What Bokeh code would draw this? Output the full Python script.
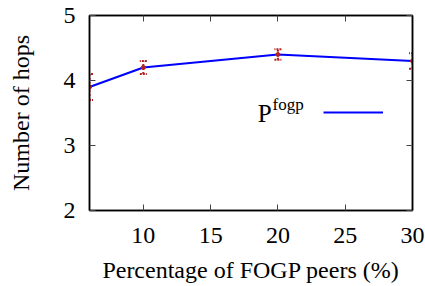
from bokeh.plotting import figure
from bokeh.models import (ColumnDataSource, Whisker, TeeHead, LinearAxis, Legend, LegendItem,
                          Label, FixedTicker, Range1d)
from bokeh.embed import file_html
from bokeh.resources import INLINE

x_vals = [6, 10, 20, 30]
hops = [3.9, 4.2, 4.4, 4.3]
err_low = [3.7, 4.1, 4.32, 4.18]
err_high = [4.1, 4.3, 4.48, 4.42]
x_ticks = [10, 15, 20, 25, 30]
y_ticks = [2, 3, 4, 5]

FONT = "Liberation Serif"

src = ColumnDataSource(dict(x=x_vals, y=hops, lo=err_low, hi=err_high))

p = figure(width=425, height=286, output_backend="svg", toolbar_location=None,
           x_range=Range1d(6, 30), y_range=Range1d(2, 5),
           min_border_left=89, min_border_right=13, min_border_top=15, min_border_bottom=76)
p.grid.visible = False
p.outline_line_color = "black"
p.outline_line_width = 1.5

for ax in (p.xaxis[0], p.yaxis[0]):
    ax.major_label_text_font = FONT
    ax.major_label_text_font_size = "24px"
    ax.major_label_text_color = "black"
    ax.axis_label_text_font = FONT
    ax.axis_label_text_font_size = "24px"
    ax.axis_label_text_font_style = "normal"
    ax.axis_label_text_color = "black"
    ax.major_tick_in = 6
    ax.major_tick_out = 0
    ax.minor_tick_line_color = None
    ax.axis_line_width = 1.5
    ax.major_tick_line_width = 1
    ax.major_tick_line_color = "#444444"

p.xaxis[0].ticker = FixedTicker(ticks=x_ticks)
p.yaxis[0].ticker = FixedTicker(ticks=y_ticks)
p.xaxis[0].axis_label = "Percentage of FOGP peers (%)"
p.yaxis[0].axis_label = "Number of hops"
p.xaxis[0].major_label_standoff = 17
p.yaxis[0].major_label_standoff = 14
p.xaxis[0].axis_label_standoff = 11
p.yaxis[0].axis_label_standoff = 27

top = LinearAxis(ticker=FixedTicker(ticks=x_ticks), major_label_overrides={t: "" for t in x_ticks},
                 major_tick_in=6, major_tick_out=0, minor_tick_line_color=None, axis_line_width=1.5,
                 major_tick_line_color="#444444")
right = LinearAxis(ticker=FixedTicker(ticks=y_ticks), major_label_overrides={t: "" for t in y_ticks},
                   major_tick_in=6, major_tick_out=0, minor_tick_line_color=None, axis_line_width=1.5,
                   major_tick_line_color="#444444")
p.add_layout(top, "above")
p.add_layout(right, "right")

r_line = p.line("x", "y", source=src, line_color="#0000ff", line_width=2.2)

w = Whisker(base="x", lower="lo", upper="hi", source=src, line_color="#b22222",
            line_dash="2 2", line_width=2,
            upper_head=TeeHead(size=7, line_color="#b22222", line_width=2, line_dash="2 1"),
            lower_head=TeeHead(size=7, line_color="#b22222", line_width=2, line_dash="2 1"))
p.add_layout(w)
p.scatter("x", "y", source=src, size=4, color="#b22222")

legend = Legend(items=[LegendItem(label="", renderers=[r_line])],
                location=(234, 88), glyph_width=60, glyph_height=20, padding=0, margin=0,
                label_standoff=0, border_line_color=None, background_fill_alpha=0,
                label_width=0)
p.add_layout(legend)

p.add_layout(Label(x=18.5, y=3.28, text="P", text_font=FONT, text_font_size="25px",
                   text_color="black"))
p.add_layout(Label(x=19.6, y=3.49, text="fogp", text_font=FONT, text_font_size="17px",
                   text_color="black"))

open("out.html", "w").write(file_html(p, INLINE))
